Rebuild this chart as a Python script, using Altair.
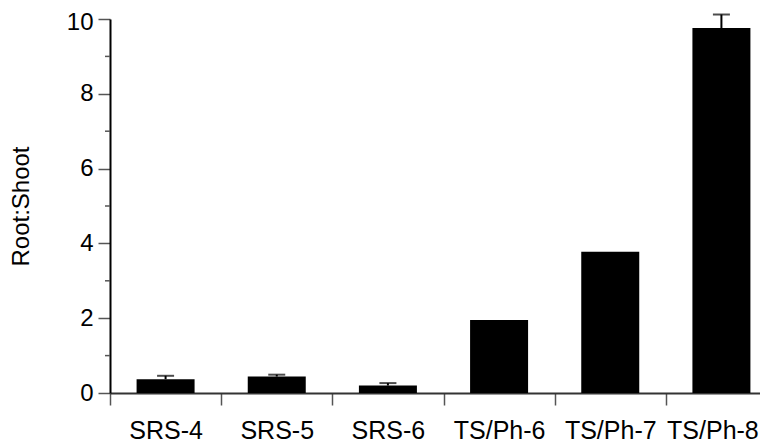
import altair as alt
import pandas as pd

categories = ["SRS-4", "SRS-5", "SRS-6", "TS/Ph-6", "TS/Ph-7", "TS/Ph-8"]
values = [0.37, 0.44, 0.20, 1.95, 3.78, 9.76]
errors = [0.09, 0.05, 0.065, 0.0, 0.0, 0.36]
minor_ticks = [1, 3, 5, 7, 9]
major_ticks = [0, 2, 4, 6, 8, 10]

df = pd.DataFrame({"cat": categories, "val": values, "err": errors})
df["top"] = df["val"] + df["err"]
df_err = df[df["err"] > 0]
df_minor = pd.DataFrame({"v": minor_ticks})

FONT = "Liberation Sans"

xenc = alt.X(
    "cat:N",
    sort=categories,
    title=None,
    scale=alt.Scale(range=[0, 667], paddingInner=0, paddingOuter=0),
    axis=alt.Axis(
        tickBand="extent",
        labelAngle=0,
        labelFontSize=25,
        labelFont=FONT,
        labelColor="black",
        labelPadding=13,
        labelOffset={"condition": {"test": "datum.value === 'TS/Ph-8'", "value": -9}, "value": 0},
        tickSize=12,
        tickColor="#555555",
        tickWidth=1.5,
        domainColor="#333333",
        domainWidth=2,
    ),
)
yscale = alt.Scale(domain=[0, 10], nice=False, zero=True)

bars = alt.Chart(df).mark_bar(color="black", width=58).encode(
    x=xenc,
    y=alt.Y(
        "val:Q",
        scale=yscale,
        title="Root:Shoot",
        axis=alt.Axis(
            values=major_ticks,
            labelFontSize=24,
            labelFont=FONT,
            labelColor="black",
            labelPadding=5,
            labelOffset={"condition": {"test": "datum.value === 10", "value": 3}, "value": 0},
            tickSize=12,
            tickColor="#555555",
            tickWidth=1.5,
            domainColor="black",
            domainWidth=2,
            titleFont=FONT,
            titleFontSize=24,
            titleFontWeight="normal",
            titleColor="black",
            titlePadding=33,
            grid=False,
        ),
    ),
)

stems = alt.Chart(df_err).mark_rule(color="black", strokeWidth=2).encode(
    x=alt.X("cat:N", sort=categories),
    y=alt.Y("val:Q", scale=yscale),
    y2="top:Q",
)

caps = alt.Chart(df_err).mark_tick(color="black", thickness=2, size=17).encode(
    x=alt.X("cat:N", sort=categories),
    y=alt.Y("top:Q", scale=yscale),
)

minor = alt.Chart(df_minor).mark_rule(color="#555555", strokeWidth=1.5).encode(
    y=alt.Y("v:Q", scale=yscale),
    x=alt.value(-5),
    x2=alt.value(0),
)

chart = (
    alt.layer(bars, stems, caps, minor)
    .properties(
        width=650,
        height=374,
        autosize=alt.AutoSizeParams(type="none"),
        padding={"left": 102, "top": 11, "right": 0, "bottom": 52},
    )
    .configure_view(stroke=None)
)

chart.save("out.html", embed_options={"renderer": "svg", "actions": False})
